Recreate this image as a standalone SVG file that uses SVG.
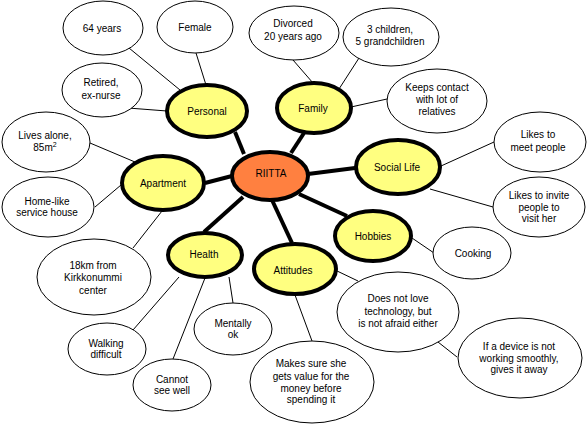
<svg xmlns="http://www.w3.org/2000/svg" width="587" height="425" viewBox="0 0 587 425">
<style>
.leaf{fill:#fff;stroke:#000;stroke-width:1}
.cat{fill:#ffff80;stroke:#000;stroke-width:4}
.core{fill:#ff8040;stroke:#000;stroke-width:4}
.thin{stroke:#000;stroke-width:1;fill:none}
.thick{stroke:#000;stroke-width:4;fill:none}
text{font-family:"Liberation Sans",Arial,sans-serif;font-size:10px;fill:#000;text-anchor:middle}
</style>
<rect width="587" height="425" fill="#fff"/>
<g id="connectors">
<line class="thick" x1="235" y1="132" x2="244" y2="154"/>
<line class="thick" x1="304" y1="133" x2="291" y2="153"/>
<line class="thick" x1="308" y1="174" x2="355" y2="168"/>
<line class="thick" x1="299" y1="194" x2="347" y2="216"/>
<line class="thick" x1="272" y1="200" x2="292" y2="243"/>
<line class="thick" x1="243" y1="197" x2="204" y2="232"/>
<line class="thick" x1="205" y1="183" x2="232" y2="176"/>
<line class="thin" x1="129" y1="48" x2="180" y2="90"/>
<line class="thin" x1="196" y1="53" x2="206" y2="85"/>
<line class="thin" x1="128" y1="108" x2="167" y2="111"/>
<line class="thin" x1="293" y1="60" x2="313" y2="83"/>
<line class="thin" x1="359" y1="58" x2="339" y2="89"/>
<line class="thin" x1="351" y1="107" x2="387" y2="99"/>
<line class="thin" x1="441" y1="166" x2="494" y2="142"/>
<line class="thin" x1="430" y1="189" x2="493" y2="207"/>
<line class="thin" x1="412" y1="238" x2="434" y2="253"/>
<line class="thin" x1="335" y1="270" x2="358" y2="281"/>
<line class="thin" x1="438" y1="342" x2="457" y2="357"/>
<line class="thin" x1="295" y1="295" x2="312" y2="341"/>
<line class="thin" x1="90" y1="143" x2="135" y2="162"/>
<line class="thin" x1="95" y1="207" x2="121" y2="185"/>
<line class="thin" x1="162" y1="211" x2="133" y2="248"/>
<line class="thin" x1="179" y1="277" x2="133" y2="330"/>
<line class="thin" x1="205" y1="278" x2="173" y2="359"/>
<line class="thin" x1="229" y1="277" x2="233" y2="303"/>
</g>
<g id="n-64"><ellipse class="leaf" cx="103" cy="28" rx="40" ry="27"/><text x="102" y="32">64 years</text></g>
<g id="n-female"><ellipse class="leaf" cx="195" cy="27" rx="38" ry="26"/><text x="195" y="31">Female</text></g>
<g id="n-retired"><ellipse class="leaf" cx="102" cy="90" rx="40" ry="27"/><text x="101" y="86">Retired,</text><text x="101" y="99">ex-nurse</text></g>
<g id="n-divorced"><ellipse class="leaf" cx="294" cy="33" rx="45" ry="27"/><text x="293" y="27">Divorced</text><text x="293" y="40">20 years ago</text></g>
<g id="n-children"><ellipse class="leaf" cx="391" cy="37" rx="48" ry="29"/><text x="390" y="33">3 children,</text><text x="390" y="45">5 grandchildren</text></g>
<g id="n-contact"><ellipse class="leaf" cx="437" cy="101" rx="50" ry="32"/><text x="437" y="91">Keeps contact</text><text x="437" y="103">with lot of</text><text x="437" y="115">relatives</text></g>
<g id="n-meet"><ellipse class="leaf" cx="540" cy="142" rx="46" ry="30"/><text x="538" y="138">Likes to</text><text x="538" y="151">meet people</text></g>
<g id="n-invite"><ellipse class="leaf" cx="539" cy="207" rx="46" ry="30"/><text x="539" y="199">Likes to invite</text><text x="539" y="211">people to</text><text x="539" y="222">visit her</text></g>
<g id="n-cooking"><ellipse class="leaf" cx="472" cy="253" rx="39" ry="26"/><text x="473" y="257">Cooking</text></g>
<g id="n-tech"><ellipse class="leaf" cx="398" cy="312" rx="61" ry="40"/><text x="398" y="302">Does not love</text><text x="398" y="315">technology, but</text><text x="398" y="327">is not afraid either</text></g>
<g id="n-device"><ellipse class="leaf" cx="520" cy="358" rx="62" ry="40"/><text x="519" y="350">If a device is not</text><text x="519" y="362">working smoothly,</text><text x="519" y="373">gives it away</text></g>
<g id="n-value"><ellipse class="leaf" cx="312" cy="382" rx="62" ry="41"/><text x="311" y="367">Makes sure she</text><text x="311" y="380">gets value for the</text><text x="311" y="392">money before</text><text x="311" y="403">spending it</text></g>
<g id="n-mental"><ellipse class="leaf" cx="233" cy="329" rx="39" ry="26"/><text x="233" y="327">Mentally</text><text x="233" y="338">ok</text></g>
<g id="n-see"><ellipse class="leaf" cx="172" cy="385" rx="39" ry="26"/><text x="172" y="383">Cannot</text><text x="172" y="394">see well</text></g>
<g id="n-walk"><ellipse class="leaf" cx="107" cy="349" rx="39" ry="26"/><text x="106" y="347">Walking</text><text x="106" y="358">difficult</text></g>
<g id="n-18km"><ellipse class="leaf" cx="94" cy="277" rx="57" ry="38"/><text x="93" y="269">18km from</text><text x="93" y="281">Kirkkonummi</text><text x="93" y="294">center</text></g>
<g id="n-alone"><ellipse class="leaf" cx="46" cy="142" rx="44" ry="30"/><text x="45" y="139">Lives alone,</text><text x="45" y="151">85m<tspan font-size="7" dy="-4">2</tspan></text></g>
<g id="n-home"><ellipse class="leaf" cx="48" cy="207" rx="46" ry="30"/><text x="47" y="205">Home-like</text><text x="47" y="216">service house</text></g>
<g id="n-personal"><ellipse class="cat" cx="207" cy="111" rx="40" ry="26"/><text x="207" y="115">Personal</text></g>
<g id="n-family"><ellipse class="cat" cx="314" cy="108" rx="37" ry="25"/><text x="313" y="112">Family</text></g>
<g id="n-social"><ellipse class="cat" cx="398" cy="167" rx="42" ry="27"/><text x="397" y="171">Social Life</text></g>
<g id="n-hobbies"><ellipse class="cat" cx="373" cy="236" rx="38" ry="25"/><text x="373" y="240">Hobbies</text></g>
<g id="n-attitudes"><ellipse class="cat" cx="295" cy="269" rx="41" ry="25"/><text x="293" y="274">Attitudes</text></g>
<g id="n-health"><ellipse class="cat" cx="205" cy="255" rx="37" ry="22"/><text x="204" y="258">Health</text></g>
<g id="n-apartment"><ellipse class="cat" cx="163" cy="183" rx="41" ry="27"/><text x="163" y="187">Apartment</text></g>
<g id="n-riitta"><ellipse class="core" cx="270" cy="176" rx="38" ry="24"/><text x="271" y="177">RIITTA</text></g>
</svg>
